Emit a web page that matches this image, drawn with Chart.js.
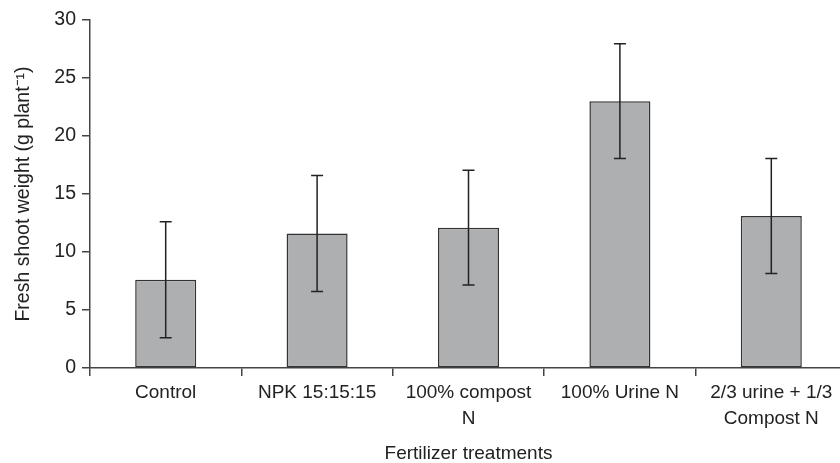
<!DOCTYPE html>
<html>
<head>
<meta charset="utf-8">
<script src="https://cdn.jsdelivr.net/npm/chart.js@4/dist/chart.umd.min.js"></script>
<style>
html,body{margin:0;padding:0;background:#fff;overflow:hidden;}
#wrap{position:relative;width:847px;height:463px;}
</style>
</head>
<body>
<div id="wrap"><canvas id="c"></canvas></div>
<script>
const categories = [["Control"], ["NPK 15:15:15"], ["100% compost", "N"], ["100% Urine N"], ["2/3 urine + 1/3", "Compost N"]];
const means = [7.6, 11.6, 12.1, 23.0, 13.1];
const errors = [5.0, 5.0, 4.95, 4.95, 4.95];
const yTicks = [0, 5, 10, 15, 20, 25, 30];

const FONT = "'Liberation Sans', Arial, Helvetica, sans-serif";
const TEXT = "#222";

const errorBars = {
  id: "errorBars",
  afterDatasetsDraw(chart) {
    const ctx = chart.ctx;
    const y = chart.scales.y;
    const meta = chart.getDatasetMeta(0);
    ctx.save();
    ctx.strokeStyle = "#222";
    ctx.lineWidth = 1.5;
    meta.data.forEach((bar, i) => {
      const x = bar.x;
      const top = y.getPixelForValue(means[i] + errors[i]);
      const bot = y.getPixelForValue(means[i] - errors[i]);
      const cap = 6;
      ctx.beginPath();
      ctx.moveTo(x, top); ctx.lineTo(x, bot);
      ctx.moveTo(x - cap, top); ctx.lineTo(x + cap, top);
      ctx.moveTo(x - cap, bot); ctx.lineTo(x + cap, bot);
      ctx.stroke();
    });
    ctx.restore();
  }
};

new Chart(document.getElementById("c"), {
  type: "bar",
  data: {
    labels: categories,
    datasets: [{
      data: means,
      backgroundColor: "#aeafb1",
      borderColor: "#333",
      borderWidth: 1.5,
      borderSkipped: false,
      categoryPercentage: 1,
      barPercentage: 0.403
    }]
  },
  options: {
    responsive: true,
    maintainAspectRatio: false,
    animation: false,
    layout: { padding: { top: 20, right: 0, left: 0, bottom: 0 } },
    plugins: { legend: { display: false }, tooltip: { enabled: false } },
    scales: {
      x: {
        offset: true,
        grid: { display: true, offset: true, drawOnChartArea: false, drawTicks: true, tickLength: 8, color: "#444", lineWidth: 1.5 },
        border: { display: true, color: "#444", width: 1.5 },
        ticks: { color: TEXT, font: { family: FONT, size: 19, lineHeight: 1.35 }, padding: 4, maxRotation: 0, autoSkip: false },
        title: { display: true, text: "Fertilizer treatments", color: TEXT, font: { family: FONT, size: 19, lineHeight: 1 }, padding: { top: 0, bottom: 0 } },
        afterFit(scale) { scale.height = 95; }
      },
      y: {
        min: 0, max: 30,
        afterBuildTicks(scale) { scale.ticks = yTicks.map(v => ({ value: v })); },
        grid: { display: true, drawOnChartArea: false, drawTicks: true, tickLength: 8, color: "#444", lineWidth: 1.5 },
        border: { display: true, color: "#444", width: 1.5 },
        ticks: { color: TEXT, font: { family: FONT, size: 19.5 }, padding: 6 },
        title: { display: true, text: "Fresh shoot weight (g plant\u207B\u00B9)", color: TEXT, font: { family: FONT, size: 19.5 }, padding: { top: 12, bottom: 0 } },
        afterFit(scale) { scale.width = 90; }
      }
    }
  },
  plugins: [errorBars]
});
</script>
</body>
</html>
